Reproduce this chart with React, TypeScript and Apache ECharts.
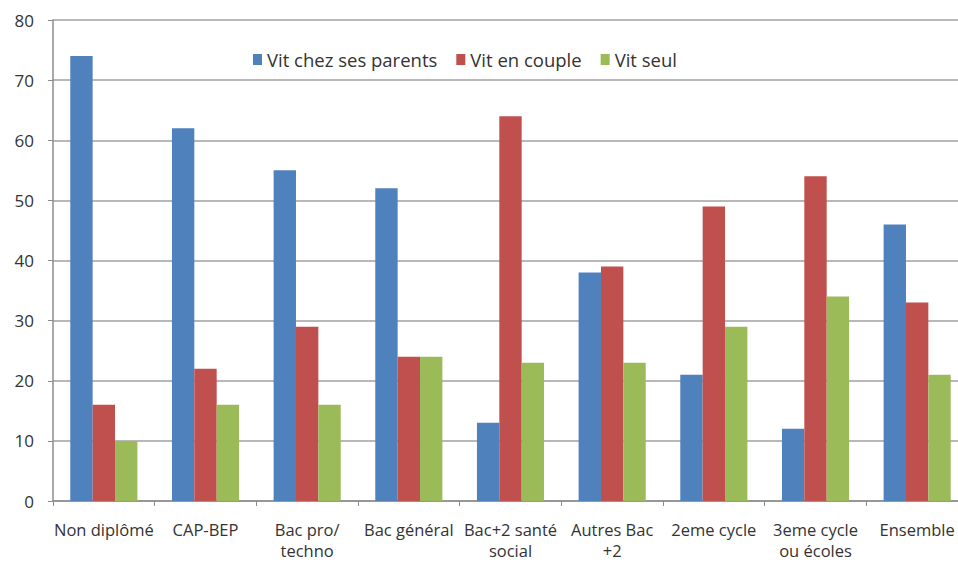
import React, { useEffect, useRef } from "react";
import * as echarts from "echarts";

const categories = [
  "Non diplômé",
  "CAP-BEP",
  "Bac pro/\ntechno",
  "Bac général",
  "Bac+2 santé\nsocial",
  "Autres Bac\n+2",
  "2eme cycle",
  "3eme cycle\nou écoles",
  "Ensemble",
];
const parents = [74, 62, 55, 52, 13, 38, 21, 12, 46];
const couple = [16, 22, 29, 24, 64, 39, 49, 54, 33];
const seul = [10, 16, 16, 24, 23, 23, 29, 34, 21];
const yTicks = { min: 0, max: 80, interval: 10 };

const FONT = "'Open Sans', 'Noto Sans', sans-serif";

export default function App() {
  const ref = useRef<HTMLDivElement>(null);
  useEffect(() => {
    if (!ref.current) return;
    const chart = echarts.init(ref.current, undefined, { renderer: "svg" });
    chart.setOption({
      animation: false,
      backgroundColor: "#ffffff",
      textStyle: { fontFamily: FONT },
      legend: {
        top: 45,
        left: 248,
        itemWidth: 9,
        itemHeight: 11,
        itemGap: 19,
        icon: "rect",
        textStyle: { fontSize: 18.5, color: "#333", fontFamily: FONT },
        data: ["Vit chez ses parents", "Vit en couple", "Vit seul"],
      },
      grid: {
        left: 53,
        top: 20,
        right: -10,
        bottom: 61,
        containLabel: false,
        outerBoundsMode: "none",
      },
      xAxis: {
        type: "category",
        data: categories,
        axisLine: { lineStyle: { color: "#8c8c8c", width: 1.5 } },
        axisTick: { show: true, length: 5, lineStyle: { color: "#8c8c8c" } },
        axisLabel: {
          color: "#333",
          fontSize: 16.5,
          margin: 18,
          lineHeight: 21,
          interval: 0,
          fontFamily: FONT,
        },
      },
      yAxis: {
        type: "value",
        min: yTicks.min,
        max: yTicks.max,
        interval: yTicks.interval,
        axisLine: { show: true, lineStyle: { color: "#8c8c8c", width: 1.5 } },
        axisTick: { show: true, length: 5, lineStyle: { color: "#8c8c8c" } },
        splitLine: { lineStyle: { color: "#a0a0a0", width: 1.5 } },
        axisLabel: { color: "#333", fontSize: 17, margin: 19, fontFamily: FONT },
      },
      series: [
        {
          name: "Vit chez ses parents",
          type: "bar",
          data: parents,
          itemStyle: { color: "#4f81bd" },
          barGap: "0%",
          barCategoryGap: "34%",
        },
        {
          name: "Vit en couple",
          type: "bar",
          data: couple,
          itemStyle: { color: "#c0504d" },
        },
        {
          name: "Vit seul",
          type: "bar",
          data: seul,
          itemStyle: { color: "#9bbb59" },
        },
      ],
    });
    return () => chart.dispose();
  }, []);
  return (
    <div
      ref={ref}
      style={{ width: 958, height: 562, position: "absolute", left: 0, top: 0 }}
    />
  );
}
